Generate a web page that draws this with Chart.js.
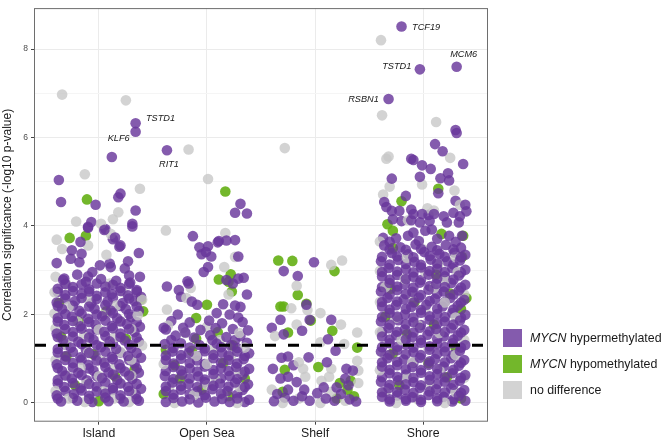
<!DOCTYPE html>
<html>
<head>
<meta charset="utf-8">
<script src="https://cdn.jsdelivr.net/npm/chart.js@4.4.1/dist/chart.umd.min.js"></script>
<style>
  body { margin: 0; background: #fff; font-family: "Liberation Sans", Arial, sans-serif; }
  #wrap { position: relative; width: 664px; height: 442px; }
  #legend { position: absolute; left: 503px; top: 325px; font-size: 12.4px; color: #1a1a1a; }
  .row { display: flex; align-items: center; height: 26px; }
  .key { width: 19px; height: 17.5px; margin-right: 8px; }
</style>
</head>
<body>
<div id="wrap"><canvas id="chart"></canvas><div id="legend"></div></div>
<script>
// categories and axis
const categories = ["Island", "Open Sea", "Shelf", "Shore"];
const yTicks = [0, 1, 2, 3, 4, 5, 6, 7, 8];
const threshold = 1.301; // -log10(0.05)

// points: [jitter within category, -log10 p]
const islandHyper = [
  [0.34,6.32],[0.34,6.13],[0.12,5.56],[-0.37,5.04],[-0.35,4.54],[-0.03,4.48],[0.2,4.73],[0.18,4.65],
  [0.34,4.35],[-0.07,4.09],[0.31,4.05],[-0.1,3.98],[0.31,3.99],[0.05,3.91],[-0.17,3.64],[0.13,3.7],
  [-0.25,3.45],[0.19,3.53],[0.37,3.39],[-0.39,3.16],[-0.18,3.18],[0.11,3.07],[0.24,3.04],[-0.32,2.81],
  [0.38,2.85],[-0.06,2.96],[-0.1,3.96],[0.06,3.93],[0.15,3.74],[0.2,3.56],[-0.26,3.26],[-0.16,3.37],
  [0.01,3.11],[0.1,3.15],[0.27,3.2],[-0.2,2.9],[-0.1,2.86],[0.28,2.88],
  [-0.33,2.78],[-0.12,2.74],[0.02,2.8],[0.16,2.76],[0.29,2.72],
  [-0.38,2.58],[-0.24,2.62],[-0.09,2.57],[0.06,2.63],[0.2,2.6],[0.35,2.55],
  [-0.31,2.44],[-0.16,2.47],[-0.02,2.42],[0.12,2.46],[0.27,2.43],[0.39,2.4],
  [-0.39,2.27],[-0.22,2.3],[-0.07,2.25],[0.08,2.29],[0.22,2.26],[0.33,2.3],
  [-0.34,2.12],[-0.18,2.08],[-0.04,2.13],[0.11,2.09],[0.25,2.12],[0.37,2.08],
  [-0.38,1.92],[-0.25,1.95],[-0.1,1.9],[0.03,1.96],[0.17,1.91],[0.3,1.94],
  [-0.32,1.76],[-0.17,1.73],[-0.03,1.77],[0.12,1.74],[0.26,1.78],[0.38,1.72],
  [-0.39,1.57],[-0.24,1.6],[-0.09,1.56],[0.05,1.61],[0.2,1.57],[0.33,1.6],
  [-0.33,1.42],[-0.19,1.38],[-0.05,1.43],[0.1,1.39],[0.24,1.41],[0.37,1.38],
  [-0.38,1.22],[-0.26,1.25],[-0.12,1.21],[0.02,1.26],[0.16,1.22],[0.3,1.24],
  [-0.31,1.06],[-0.17,1.03],[-0.03,1.07],[0.12,1.04],[0.27,1.06],[0.39,1.02],
  [-0.39,0.87],[-0.24,0.9],[-0.1,0.86],[0.05,0.91],[0.19,0.87],[0.33,0.89],
  [-0.34,0.72],[-0.19,0.68],[-0.05,0.73],[0.09,0.69],[0.24,0.71],[0.37,0.68],
  [-0.38,0.52],[-0.25,0.55],[-0.11,0.51],[0.03,0.56],[0.17,0.52],[0.31,0.54],
  [-0.32,0.36],[-0.17,0.33],[-0.02,0.37],[0.13,0.34],[0.27,0.36],[0.39,0.32],
  [-0.39,0.17],[-0.23,0.2],[-0.09,0.16],[0.06,0.21],[0.2,0.17],[0.34,0.19],
  [-0.35,0.03],[-0.2,0.05],[-0.06,0.02],[0.09,0.04],[0.23,0.03],[0.37,0.05],
  [-0.31,2.69],[-0.16,2.68],[-0.02,2.7],[0.13,2.67],[0.28,2.69],
  [-0.38,2.51],[-0.24,2.53],[-0.09,2.52],[0.06,2.5],[0.2,2.53],[0.35,2.52],
  [-0.31,2.36],[-0.16,2.37],[-0.02,2.35],[0.13,2.38],[0.28,2.36],
  [-0.38,2.19],[-0.24,2.2],[-0.09,2.18],[0.06,2.21],[0.2,2.19],[0.35,2.18],
  [-0.31,2.01],[-0.16,2.02],[-0.02,2.0],[0.13,2.03],[0.28,2.01],
  [-0.38,1.84],[-0.24,1.85],[-0.09,1.83],[0.06,1.86],[0.2,1.84],[0.35,1.83],
  [-0.31,1.67],[-0.16,1.68],[-0.02,1.66],[0.13,1.69],[0.28,1.67],
  [-0.38,1.49],[-0.24,1.5],[-0.09,1.48],[0.06,1.51],[0.2,1.49],[0.35,1.48],
  [-0.31,1.32],[-0.16,1.33],[-0.02,1.31],[0.13,1.34],[0.28,1.32],
  [-0.38,1.14],[-0.24,1.15],[-0.09,1.13],[0.06,1.16],[0.2,1.14],[0.35,1.13],
  [-0.31,0.97],[-0.16,0.98],[-0.02,0.96],[0.13,0.99],[0.28,0.97],
  [-0.38,0.79],[-0.24,0.8],[-0.09,0.78],[0.06,0.81],[0.2,0.79],[0.35,0.78],
  [-0.31,0.62],[-0.16,0.63],[-0.02,0.61],[0.13,0.64],[0.28,0.62],
  [-0.38,0.44],[-0.24,0.45],[-0.09,0.43],[0.06,0.46],[0.2,0.44],[0.35,0.43],
  [-0.31,0.27],[-0.16,0.28],[-0.02,0.26],[0.13,0.29],[0.28,0.27],
  [-0.38,0.1],[-0.24,0.11],[-0.09,0.09],[0.06,0.12],[0.2,0.1],[0.35,0.09]
];
const islandHypo = [
  [-0.11,4.6],[-0.27,3.73],[-0.12,3.78],[0.41,2.07],[0.39,2.34],[-0.37,2.26],[-0.19,1.85],[0.07,2.07],
  [-0.35,1.5],[0.25,1.45],[-0.05,1.1],[0.33,0.75],[-0.22,0.4],[0.0,0.04],[-0.3,1.05],[0.15,0.6]
];
const islandNone = [
  [-0.34,6.97],[0.25,6.84],[-0.13,5.17],[0.38,4.84],[0.18,4.31],[-0.21,4.1],[0.02,4.05],[0.13,4.15],
  [-0.39,3.69],[0.11,3.82],[-0.34,3.48],[-0.1,3.56],[0.07,3.35],[-0.4,2.85],
  [-0.3,2.68],[0.1,2.7],[-0.41,2.5],[0.22,2.52],[-0.1,2.35],[0.4,2.33],[-0.28,2.18],[0.16,2.2],
  [-0.41,2.02],[0.05,2.0],[0.36,1.98],[-0.2,1.84],[0.2,1.85],[-0.4,1.68],[0.0,1.66],[0.3,1.67],
  [-0.14,1.5],[0.15,1.49],[-0.3,1.32],[0.08,1.31],[0.4,1.3],[-0.1,1.14],[0.2,1.15],[-0.4,0.97],
  [0.02,0.96],[0.3,0.98],[-0.17,0.8],[0.14,0.78],[-0.3,0.62],[0.0,0.6],[0.3,0.62],[-0.12,0.44],
  [0.2,0.45],[-0.4,0.27],[0.04,0.26],[0.3,0.27],[-0.28,0.1],[0.14,0.1],[-0.13,0.02],[0.28,0.02]
];

const openSeaHyper = [
  [-0.37,5.71],[0.31,4.5],[0.26,4.3],[0.37,4.28],[-0.13,3.77],[0.11,3.66],[0.18,3.67],[0.26,3.68],
  [0.01,3.54],[-0.01,3.41],[0.04,3.31],[0.29,3.31],[0.01,3.07],[-0.03,2.96],[-0.18,2.75],[0.34,2.83],
  [0.18,2.78],[-0.07,3.52],[-0.05,3.36],[0.1,3.63],[0.24,2.7],[0.29,2.81],[-0.37,2.63],[-0.26,2.55],
  [-0.17,2.7],[-0.24,2.4],[-0.14,2.29],[-0.09,2.22],[-0.27,2.0],[0.15,2.23],[0.26,2.2],[0.31,2.17],
  [0.37,2.45],[0.09,2.03],[0.21,2.0],[0.29,1.93],[-0.4,1.7],
  [-0.33,1.85],[-0.16,1.82],[0.02,1.86],[0.14,1.8],[0.33,1.83],
  [-0.38,1.66],[-0.22,1.7],[-0.06,1.65],[0.08,1.69],[0.24,1.67],[0.38,1.64],
  [-0.29,1.52],[-0.12,1.48],[0.03,1.53],[0.18,1.49],[0.31,1.51],
  [-0.39,1.33],[-0.24,1.35],[-0.07,1.31],[0.09,1.34],[0.22,1.3],[0.37,1.36],
  [-0.32,1.16],[-0.17,1.13],[-0.02,1.17],[0.14,1.14],[0.28,1.16],[0.39,1.12],
  [-0.38,0.97],[-0.24,1.0],[-0.09,0.96],[0.06,1.01],[0.2,0.97],[0.34,0.99],
  [-0.31,0.81],[-0.16,0.78],[-0.02,0.82],[0.13,0.79],[0.27,0.81],[0.39,0.77],
  [-0.39,0.61],[-0.23,0.64],[-0.08,0.6],[0.06,0.65],[0.21,0.61],[0.33,0.63],
  [-0.32,0.46],[-0.17,0.43],[-0.02,0.47],[0.12,0.44],[0.26,0.46],[0.38,0.42],
  [-0.38,0.27],[-0.24,0.3],[-0.09,0.26],[0.05,0.31],[0.19,0.27],[0.33,0.29],
  [-0.31,0.11],[-0.16,0.08],[-0.01,0.12],[0.14,0.09],[0.28,0.1],[0.39,0.07],
  [-0.38,0.02],[-0.23,0.03],[-0.08,0.01],[0.07,0.03],[0.21,0.02],[0.35,0.02],
  [-0.2,1.59],[0.05,1.42],[0.26,1.42],[-0.33,1.42],
  [-0.31,1.24],[-0.16,1.25],[-0.02,1.23],[0.13,1.26],[0.28,1.24],
  [-0.38,1.07],[-0.24,1.08],[-0.09,1.06],[0.06,1.09],[0.2,1.07],[0.35,1.06],
  [-0.31,0.89],[-0.16,0.9],[-0.02,0.88],[0.13,0.91],[0.28,0.89],
  [-0.38,0.72],[-0.24,0.73],[-0.09,0.71],[0.06,0.74],[0.2,0.72],[0.35,0.71],
  [-0.31,0.54],[-0.16,0.55],[-0.02,0.53],[0.13,0.56],[0.28,0.54],
  [-0.38,0.37],[-0.24,0.38],[-0.09,0.36],[0.06,0.39],[0.2,0.37],[0.35,0.36],
  [-0.31,0.19],[-0.16,0.2],[-0.02,0.18],[0.13,0.21],[0.28,0.19]
];
const openSeaHypo = [
  [0.17,4.78],[0.22,2.91],[0.11,2.79],[0.2,2.74],[0.0,2.22],[-0.1,1.92],[0.23,2.52],
  [-0.38,1.2],[0.1,1.6],[-0.1,1.45],[0.15,0.9],[-0.25,0.55],[0.35,0.55],[-0.05,0.3],[0.24,1.3],
  [-0.3,0.85],[0.2,0.15],[-0.4,0.2],[-0.14,1.18]
];
const openSeaNone = [
  [-0.17,5.73],[0.01,5.06],[-0.38,3.9],[0.17,3.84],[0.26,3.3],[0.16,3.07],[-0.19,2.37],[-0.37,2.11],
  [-0.15,2.6],[0.2,2.45],[-0.36,1.75],[0.0,1.72],[0.3,1.58],[-0.2,1.58],[0.12,1.42],[-0.33,1.24],
  [0.05,1.22],[0.35,1.25],[-0.1,1.06],[0.22,1.05],[-0.4,0.88],[0.0,0.88],[0.3,0.7],[-0.22,0.72],
  [0.08,0.52],[-0.35,0.36],[0.3,0.36],[-0.12,0.18],[0.15,0.18],[-0.3,0.0],[0.28,0.0],[0.0,0.4]
];

const shelfHyper = [
  [-0.01,3.18],[-0.29,2.98],[-0.16,2.87],[-0.08,2.22],[-0.32,1.88],[-0.4,1.7],[-0.29,1.55],[-0.12,1.63],
  [-0.05,1.88],[0.15,1.88],[0.12,1.44],[0.19,1.18],[0.11,0.92],[-0.31,1.02],[-0.25,1.05],[-0.06,1.03],
  [-0.39,0.77],[-0.2,0.85],[0.29,0.77],[0.35,0.73],[-0.32,0.55],[-0.25,0.59],[-0.17,0.47],[0.28,0.55],
  [0.31,0.4],[-0.35,0.2],[-0.28,0.12],[-0.2,0.05],[-0.12,0.15],[-0.05,0.05],[0.02,0.22],[0.1,0.1],
  [0.18,0.05],[0.24,0.2],[0.32,0.08],[0.38,0.03],[-0.38,0.04],[0.08,0.35],[-0.1,0.3],[0.2,0.35],[-0.25,0.3]
];
const shelfHypo = [
  [-0.34,3.22],[-0.21,3.21],[0.18,2.98],[-0.16,2.44],[-0.32,2.18],[-0.29,2.18],[-0.04,1.86],[0.16,1.63],
  [-0.25,1.59],[0.39,1.25],[-0.28,0.75],[0.03,0.81],[0.23,0.45],[0.33,0.5],[0.36,0.15],[-0.3,0.25],
  [0.2,0.1],[0.3,0.3],[-0.08,2.24]
];
const shelfNone = [
  [-0.28,5.76],[0.15,3.12],[0.25,3.22],[-0.17,2.65],[-0.22,2.14],[-0.07,2.1],[0.05,2.03],[-0.17,1.77],
  [0.24,1.77],[0.39,1.59],[-0.37,1.51],[0.05,1.37],[0.27,1.33],[-0.15,0.92],[0.39,0.95],[-0.11,0.77],
  [0.15,0.77],[0.4,0.73],[-0.09,0.59],[0.06,0.5],[0.13,0.59],[0.4,0.45],[-0.4,0.3],[-0.15,0.1],
  [0.05,0.0],[0.28,0.05],[0.15,0.25],[-0.3,0.0]
];

const shoreHyper = [
  [-0.2,8.51],[-0.03,7.54],[0.31,7.6],[-0.32,6.87],[0.3,6.17],[0.31,6.1],[0.11,5.85],[0.18,5.69],
  [0.37,5.4],[-0.11,5.52],[-0.09,5.49],[-0.01,5.37],[0.07,5.29],[0.23,5.19],[0.16,5.08],[0.24,5.03],
  [-0.29,5.07],[-0.03,5.11],[0.14,4.74],[-0.36,4.54],[-0.34,4.43],[-0.16,4.68],[-0.29,4.34],[-0.22,4.34],
  [-0.11,4.37],[-0.09,4.27],[-0.01,4.27],[0.05,4.25],[0.1,4.27],[0.19,4.22],[0.28,4.3],[0.34,4.22],
  [0.4,4.33],[0.3,4.57],[0.39,4.48],
  [-0.28,4.15],[-0.2,4.11],[-0.11,4.13],[-0.03,4.08],[0.06,4.11],[0.22,4.08],[0.33,4.08],
  [-0.37,3.73],[-0.25,3.72],[-0.14,3.78],[-0.04,3.66],[0.02,3.89],[0.13,3.71],[0.24,3.78],[0.36,3.78],
  [-0.36,3.56],[-0.21,3.52],[-0.07,3.58],[0.08,3.53],[0.21,3.57],[0.35,3.51],
  [-0.29,3.39],[-0.14,3.36],[0.01,3.41],[0.15,3.37],[0.29,3.4],[0.39,3.35],
  [-0.39,3.2],[-0.23,3.23],[-0.08,3.19],[0.07,3.24],[0.22,3.2],[0.34,3.22],
  [-0.32,3.05],[-0.16,3.02],[-0.02,3.06],[0.13,3.03],[0.27,3.05],[0.39,3.01],
  [-0.38,2.86],[-0.24,2.89],[-0.09,2.85],[0.05,2.9],[0.2,2.86],[0.33,2.88],
  [-0.31,2.71],[-0.17,2.68],[-0.03,2.72],[0.12,2.69],[0.26,2.71],[0.39,2.67],
  [-0.39,2.52],[-0.24,2.55],[-0.1,2.51],[0.05,2.56],[0.19,2.52],[0.33,2.54],
  [-0.33,2.37],[-0.18,2.34],[-0.04,2.38],[0.11,2.35],[0.25,2.37],[0.38,2.33],
  [-0.38,2.18],[-0.25,2.21],[-0.11,2.17],[0.03,2.22],[0.18,2.18],[0.32,2.2],
  [-0.31,2.03],[-0.17,2.0],[-0.02,2.04],[0.13,2.01],[0.27,2.03],[0.39,1.99],
  [-0.39,1.84],[-0.23,1.87],[-0.09,1.83],[0.06,1.88],[0.2,1.84],[0.34,1.86],
  [-0.32,1.69],[-0.17,1.66],[-0.03,1.7],[0.12,1.67],[0.26,1.69],[0.38,1.65],
  [-0.38,1.5],[-0.25,1.53],[-0.1,1.49],[0.04,1.54],[0.19,1.5],[0.32,1.52],
  [-0.31,1.35],[-0.16,1.32],[-0.02,1.36],[0.13,1.33],[0.27,1.35],[0.39,1.31],
  [-0.39,1.16],[-0.24,1.19],[-0.09,1.15],[0.06,1.2],[0.2,1.16],[0.34,1.18],
  [-0.33,1.01],[-0.18,0.98],[-0.03,1.02],[0.11,0.99],[0.26,1.01],[0.38,0.97],
  [-0.38,0.82],[-0.24,0.85],[-0.1,0.81],[0.05,0.86],[0.19,0.82],[0.33,0.84],
  [-0.31,0.67],[-0.16,0.64],[-0.02,0.68],[0.13,0.65],[0.27,0.67],[0.39,0.63],
  [-0.39,0.48],[-0.23,0.51],[-0.09,0.47],[0.06,0.52],[0.2,0.48],[0.34,0.5],
  [-0.32,0.33],[-0.17,0.3],[-0.03,0.34],[0.12,0.31],[0.26,0.33],[0.38,0.29],
  [-0.38,0.14],[-0.24,0.17],[-0.1,0.13],[0.05,0.18],[0.19,0.14],[0.33,0.16],
  [-0.31,0.03],[-0.16,0.05],[-0.02,0.02],[0.13,0.04],[0.27,0.03],[0.39,0.05],
  [-0.31,3.64],[-0.09,3.85],[0.08,3.92],[0.3,3.64],
  [-0.31,3.47],[-0.16,3.46],[-0.02,3.48],[0.13,3.45],[0.28,3.47],
  [-0.38,3.3],[-0.24,3.31],[-0.09,3.29],[0.06,3.32],[0.2,3.3],[0.35,3.29],
  [-0.31,3.13],[-0.16,3.14],[-0.02,3.12],[0.13,3.15],[0.28,3.13],
  [-0.38,2.96],[-0.24,2.97],[-0.09,2.95],[0.06,2.98],[0.2,2.96],[0.35,2.95],
  [-0.31,2.79],[-0.16,2.8],[-0.02,2.78],[0.13,2.81],[0.28,2.79],
  [-0.38,2.62],[-0.24,2.63],[-0.09,2.61],[0.06,2.64],[0.2,2.62],[0.35,2.61],
  [-0.31,2.45],[-0.16,2.46],[-0.02,2.44],[0.13,2.47],[0.28,2.45],
  [-0.38,2.28],[-0.24,2.29],[-0.09,2.27],[0.06,2.3],[0.2,2.28],[0.35,2.27],
  [-0.31,2.11],[-0.16,2.12],[-0.02,2.1],[0.13,2.13],[0.28,2.11],
  [-0.38,1.94],[-0.24,1.95],[-0.09,1.93],[0.06,1.96],[0.2,1.94],[0.35,1.93],
  [-0.31,1.77],[-0.16,1.78],[-0.02,1.76],[0.13,1.79],[0.28,1.77],
  [-0.38,1.6],[-0.24,1.61],[-0.09,1.59],[0.06,1.62],[0.2,1.6],[0.35,1.59],
  [-0.31,1.43],[-0.16,1.44],[-0.02,1.42],[0.13,1.45],[0.28,1.43],
  [-0.38,1.26],[-0.24,1.27],[-0.09,1.25],[0.06,1.28],[0.2,1.26],[0.35,1.25],
  [-0.31,1.09],[-0.16,1.1],[-0.02,1.08],[0.13,1.11],[0.28,1.09],
  [-0.38,0.92],[-0.24,0.93],[-0.09,0.91],[0.06,0.94],[0.2,0.92],[0.35,0.91],
  [-0.31,0.75],[-0.16,0.76],[-0.02,0.74],[0.13,0.77],[0.28,0.75],
  [-0.38,0.58],[-0.24,0.59],[-0.09,0.57],[0.06,0.6],[0.2,0.58],[0.35,0.57],
  [-0.31,0.41],[-0.16,0.42],[-0.02,0.4],[0.13,0.43],[0.28,0.41],
  [-0.38,0.24],[-0.24,0.25],[-0.09,0.23],[0.06,0.26],[0.2,0.24],[0.35,0.23],
  [-0.31,0.08],[-0.16,0.09],[-0.02,0.07],[0.13,0.1],[0.28,0.08]
];
const shoreHypo = [
  [0.14,4.84],[-0.2,4.56],[-0.33,4.04],[-0.28,3.89],[0.17,3.82],[0.37,3.78],
  [-0.28,3.5],[0.36,3.3],[0.12,2.9],[-0.3,2.58],[0.25,2.47],[-0.08,2.28],[0.4,2.37],[0.35,2.12],
  [-0.35,1.95],[0.1,1.77],[-0.15,1.55],[0.3,1.25],[-0.28,1.12],[0.05,0.9],[0.22,0.58],[-0.22,0.4],[0.35,0.1]
];
const shoreNone = [
  [-0.39,8.2],[-0.38,6.5],[0.12,6.35],[0.25,5.54],[-0.32,5.57],[-0.34,5.52],[-0.01,4.94],[-0.31,4.89],
  [0.29,4.8],[-0.37,4.71],[0.34,4.48],[0.04,4.4],[0.1,4.35],[-0.14,4.13],
  [-0.4,3.65],[0.0,3.47],[0.3,3.3],[-0.15,3.28],[0.14,3.13],[-0.4,2.98],[0.02,2.96],[0.32,2.96],
  [-0.17,2.8],[0.2,2.78],[-0.35,2.62],[0.1,2.6],[0.38,2.45],[-0.1,2.43],[-0.4,2.28],[0.2,2.27],
  [0.02,2.1],[-0.25,1.93],[0.3,1.93],[-0.05,1.76],[-0.4,1.6],[0.15,1.58],[0.38,1.42],[-0.2,1.42],
  [0.05,1.25],[-0.35,1.08],[0.3,1.08],[-0.1,0.92],[0.15,0.74],[-0.4,0.74],[0.38,0.57],[-0.15,0.57],
  [0.05,0.4],[-0.35,0.24],[0.3,0.24],[-0.05,0.08],[0.2,0.0],[-0.25,0.0]
];

// labelled genes: category, jitter, value, gene
const geneLabels = [
  ["Shore", -0.2, 8.51, "TCF19"],
  ["Shore", -0.03, 7.54, "TSTD1"],
  ["Shore", 0.31, 7.6, "MCM6"],
  ["Shore", -0.32, 6.87, "RSBN1"],
  ["Island", 0.34, 6.32, "TSTD1"],
  ["Island", 0.34, 6.13, "KLF6"],
  ["Open Sea", -0.37, 5.71, "RIT1"]
];
const labelPlace = [
  { align: "left", dx: 10.6, dy: 1 },
  { align: "right", dx: -8.6, dy: -3 },
  { align: "center", dx: 7, dy: -12.4 },
  { align: "right", dx: -9.7, dy: 0 },
  { align: "left", dx: 10.3, dy: -5 },
  { align: "right", dx: -6, dy: 6.3 },
  { align: "center", dx: 2, dy: 14 }
];

const purple = "rgba(105,55,155,0.82)";
const green = "rgba(100,175,20,0.9)";
const grey = "rgba(200,200,200,0.8)";

function toPoints(list, cat) {
  return list.map(([dx, v]) => ({ x: categories.indexOf(cat) + 1 + dx, y: v }));
}

const hyper = [].concat(toPoints(islandHyper, "Island"), toPoints(openSeaHyper, "Open Sea"),
  toPoints(shelfHyper, "Shelf"), toPoints(shoreHyper, "Shore"));
const hypo = [].concat(toPoints(islandHypo, "Island"), toPoints(openSeaHypo, "Open Sea"),
  toPoints(shelfHypo, "Shelf"), toPoints(shoreHypo, "Shore"));
const none = [].concat(toPoints(islandNone, "Island"), toPoints(openSeaNone, "Open Sea"),
  toPoints(shelfNone, "Shelf"), toPoints(shoreNone, "Shore"));

// interleave draw order a little, like the original overplotting
const hyperTop = hyper.filter((p, i) => i % 3 !== 0);
const hyperBase = hyper.filter((p, i) => i % 3 === 0);

const panelExtras = {
  id: "panelExtras",
  afterDatasetsDraw(chart) {
    const { ctx, chartArea: a, scales: { x, y } } = chart;
    const yy = y.getPixelForValue(threshold);
    ctx.save();
    ctx.strokeStyle = "#000";
    ctx.lineWidth = 3;
    ctx.setLineDash([11, 12]);
    ctx.beginPath();
    ctx.moveTo(a.left + 1, yy);
    ctx.lineTo(a.right, yy);
    ctx.stroke();
    ctx.setLineDash([]);

    ctx.font = "italic 9.2px 'Liberation Sans', Arial, sans-serif";
    ctx.fillStyle = "#1a1a1a";
    ctx.textBaseline = "middle";
    geneLabels.forEach(([cat, dx, v, gene], i) => {
      const p = labelPlace[i];
      ctx.textAlign = p.align;
      ctx.fillText(gene, x.getPixelForValue(categories.indexOf(cat) + 1 + dx) + p.dx, y.getPixelForValue(v) + p.dy);
    });

    ctx.strokeStyle = "#6e6e6e";
    ctx.lineWidth = 1;
    ctx.strokeRect(a.left + 0.5, a.top + 0.5, a.width - 1, a.height - 1);
    ctx.restore();
  }
};

new Chart(document.getElementById("chart"), {
  type: "scatter",
  data: {
    datasets: [
      { label: "MYCN hypermethylated", data: hyperTop, backgroundColor: purple },
      { label: "no difference", data: none, backgroundColor: grey },
      { label: "MYCN hypermethylated (under)", data: hyperBase, backgroundColor: purple },
      { label: "MYCN hypomethylated", data: hypo, backgroundColor: green }
    ]
  },
  options: {
    responsive: true,
    maintainAspectRatio: false,
    animation: false,
    events: [],
    layout: { padding: { top: 3, right: 176, left: 0, bottom: 0 } },
    elements: { point: { radius: 5.3, borderWidth: 0, hoverRadius: 5.3 } },
    plugins: { legend: { display: false }, tooltip: { enabled: false } },
    scales: {
      x: {
        type: "linear",
        min: 0.4,
        max: 4.6,
        afterBuildTicks: (s) => { s.ticks = categories.map((c, i) => ({ value: i + 1 })); },
        afterFit: (s) => { s.height = 20.3; },
        ticks: {
          callback: (v) => categories[v - 1],
          font: { size: 12.3, family: "'Liberation Sans', Arial, sans-serif" },
          color: "#1a1a1a",
          padding: 2,
          maxRotation: 0
        },
        grid: { color: "#ebebeb", tickColor: "#444", tickLength: 3 },
        border: { display: false }
      },
      y: {
        min: -0.425,
        max: 8.925,
        afterBuildTicks: (s) => { s.ticks = yTicks.map((v) => ({ value: v })); },
        afterFit: (s) => { s.width = 34; },
        ticks: {
          callback: (v) => (v % 2 === 0 ? v : ""),
          font: { size: 8.5, family: "'Liberation Sans', Arial, sans-serif" },
          color: "#4d4d4d",
          padding: 3
        },
        grid: {
          color: (c) => (c.tick && c.tick.value % 2 === 0 ? "#ebebeb" : "#f5f5f5"),
          tickColor: (c) => (c.tick && c.tick.value % 2 === 0 ? "#444" : "rgba(0,0,0,0)"),
          tickLength: 3
        },
        border: { display: false },
        title: {
          display: true,
          text: "Correlation significance (-log10 p-value)",
          font: { size: 12, family: "'Liberation Sans', Arial, sans-serif" },
          color: "#1a1a1a",
          padding: 0
        }
      }
    }
  },
  plugins: [panelExtras]
});

// legend with italic gene name
const legendItems = [
  [purple, "<i>MYCN</i> hypermethylated"],
  [green, "<i>MYCN</i> hypomethylated"],
  [grey, "no difference"]
];
document.getElementById("legend").innerHTML = legendItems
  .map(([c, t]) => `<div class="row"><div class="key" style="background:${c}"></div><span>${t}</span></div>`)
  .join("");
</script>
</body>
</html>
